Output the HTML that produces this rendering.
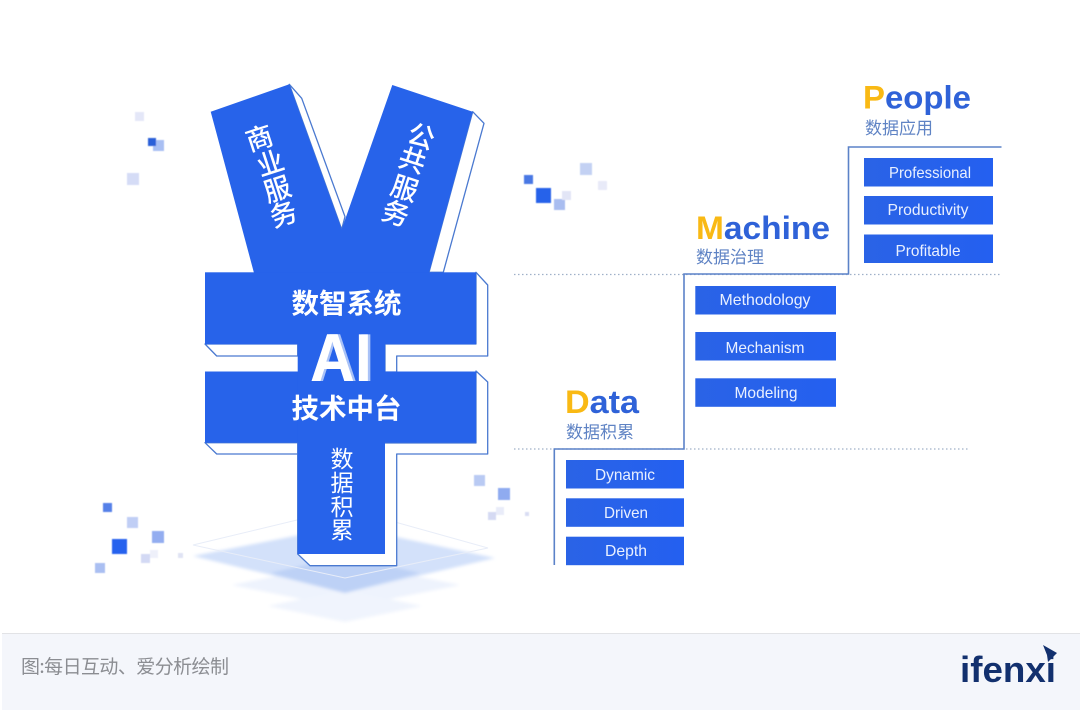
<!DOCTYPE html>
<html>
<head>
<meta charset="utf-8">
<style>
html,body{margin:0;padding:0;background:#fff;width:1080px;height:710px;overflow:hidden}
svg{display:block}
text{font-family:"Liberation Sans","Noto Sans CJK SC",sans-serif}
.w{fill:#fff;text-anchor:middle;font-weight:500}
.b{fill:#e9f0ff;font-size:16px;text-anchor:middle}
.t{font-weight:700;font-size:32px;fill:#2f62d8}
.y{fill:#f9b914}
.s{fill:#5f83c4;font-size:17px}
</style>
</head>
<body>
<svg width="1080" height="710" viewBox="0 0 1080 710" xmlns="http://www.w3.org/2000/svg">
<defs>
<linearGradient id="g" x1="0" x2="1" y1="0" y2="0"><stop offset="0" stop-color="#2a63e6"/><stop offset="1" stop-color="#2460f0"/></linearGradient>
<filter id="soft" x="-10%" y="-10%" width="120%" height="120%"><feGaussianBlur stdDeviation="0.6"/></filter>
<filter id="soft2" x="-10%" y="-10%" width="120%" height="120%"><feGaussianBlur stdDeviation="1.5"/></filter>
</defs>
<rect width="1080" height="710" fill="#fff"/>

<!-- platform -->
<g filter="url(#soft2)">
<polygon points="232,585 345,562 460,585 345,608" fill="#eef3fd"/>
<polygon points="268,606 345,590 422,606 345,622" fill="#f0f4fd"/>
<polygon points="193,556 345,526 495,558 345,593" fill="#d3e1fa"/>
<polygon points="270,573 345,556 420,573 345,593" fill="#bdd1f6"/>
</g>
<polygon points="193,545 297,520 395,522 488,548 345,578" fill="none" stroke="#e8edf8" stroke-width="1"/>

<!-- floating squares -->
<g filter="url(#soft)">
<rect x="135" y="112" width="9" height="9" fill="#e4e7f8"/>
<rect x="153" y="140" width="11" height="11" fill="#a9bff3"/>
<rect x="148" y="138" width="8" height="8" fill="#2b5fd8"/>
<rect x="127" y="173" width="12" height="12" fill="#d5dcf6"/>
<rect x="524" y="175" width="9" height="9" fill="#4a78e4"/>
<rect x="536" y="188" width="15" height="15" fill="#2762ea"/>
<rect x="554" y="199" width="11" height="11" fill="#a9bdf0"/>
<rect x="562" y="191" width="9" height="9" fill="#e2e5f6"/>
<rect x="580" y="163" width="12" height="12" fill="#c3d1f3"/>
<rect x="598" y="181" width="9" height="9" fill="#e8eaf8"/>
<rect x="103" y="503" width="9" height="9" fill="#5480e8"/>
<rect x="127" y="517" width="11" height="11" fill="#c0cef5"/>
<rect x="152" y="531" width="12" height="12" fill="#93adf0"/>
<rect x="112" y="539" width="15" height="15" fill="#2762ee"/>
<rect x="141" y="554" width="9" height="9" fill="#d3d9f4"/>
<rect x="150" y="550" width="8" height="8" fill="#eef0fa"/>
<rect x="95" y="563" width="10" height="10" fill="#aabff2"/>
<rect x="178" y="553" width="5" height="5" fill="#e0e3f4"/>
<rect x="474" y="475" width="11" height="11" fill="#b9caf3"/>
<rect x="498" y="488" width="12" height="12" fill="#8fabf0"/>
<rect x="488" y="512" width="8" height="8" fill="#d5daf3"/>
<rect x="496" y="507" width="8" height="8" fill="#e9ecf9"/>
<rect x="525" y="512" width="4" height="4" fill="#d9ddf3"/>
</g>

<!-- yen extrusion -->
<g fill="#fff" stroke="#4a79d0" stroke-width="1.3" stroke-linejoin="round">
<polygon points="289.3,84.3 301.7,98.3 345,216.7 341.7,229.3"/>
<polygon points="472.7,111.7 484,123.3 443.3,272.3 429,272.3"/>
<polygon points="476,272.3 487.7,285 487.7,356 396.7,356 396.7,372 385,372 385,344 476,344"/>
<polygon points="205,344 216.7,356 297.7,356 297.7,344"/>
<polygon points="476,371 487.7,382 487.7,454 396.7,454 396.7,565.7 310,565.7 297.7,554 297.7,443 476,443"/>
<polygon points="205,442.7 216.7,454 297.7,454 297.7,442.7"/>
</g>

<!-- yen body -->
<g fill="#2763ea">
<polygon points="210.7,111.7 289.3,84.3 341.7,229.3 392.3,85 472.7,111.7 429,273 254,273"/>
<rect x="205" y="272.3" width="271" height="72"/>
<rect x="205" y="371.5" width="271" height="71.2"/>
<rect x="297.7" y="340" width="87.3" height="214"/>
</g>

<!-- yen text -->
<g font-size="27" style="font-family:'Noto Sans CJK SC','Liberation Sans',sans-serif">
<text class="w" style="font-family:'Noto Sans CJK SC',sans-serif" transform="translate(262.4,147.5) rotate(-18)">商</text>
<text class="w" style="font-family:'Noto Sans CJK SC',sans-serif" transform="translate(273.4,172.5) rotate(-18)">业</text>
<text class="w" style="font-family:'Noto Sans CJK SC',sans-serif" transform="translate(280.4,198.5) rotate(-18)">服</text>
<text class="w" style="font-family:'Noto Sans CJK SC',sans-serif" transform="translate(286.4,223.5) rotate(-18)">务</text>
<text class="w" style="font-family:'Noto Sans CJK SC',sans-serif" transform="translate(418.3,145.5) rotate(18)">公</text>
<text class="w" style="font-family:'Noto Sans CJK SC',sans-serif" transform="translate(409.3,169.5) rotate(18)">共</text>
<text class="w" style="font-family:'Noto Sans CJK SC',sans-serif" transform="translate(401.6,197.5) rotate(18)">服</text>
<text class="w" style="font-family:'Noto Sans CJK SC',sans-serif" transform="translate(392.6,222.5) rotate(18)">务</text>
</g>
<text x="346.5" y="313" font-size="27.5" font-weight="700" fill="#fff" text-anchor="middle" style="font-family:'Noto Sans CJK SC',sans-serif">数智系统</text>
<text x="346.5" y="418" font-size="27.5" font-weight="700" fill="#fff" text-anchor="middle" style="font-family:'Noto Sans CJK SC',sans-serif">技术中台</text>
<text x="312.5" y="381" font-size="68" font-weight="700" fill="#a9c2f7" textLength="62" lengthAdjust="spacingAndGlyphs">AI</text>
<text x="310" y="381" font-size="68" font-weight="700" fill="#fff" textLength="62" lengthAdjust="spacingAndGlyphs">AI</text>
<g font-size="23" fill="#fff" text-anchor="middle" style="font-family:'Noto Sans CJK SC',sans-serif">
<text x="342" y="467">数</text>
<text x="342" y="491">据</text>
<text x="342" y="515">积</text>
<text x="342" y="538">累</text>
</g>

<!-- stairs -->
<line x1="514" y1="274.5" x2="1002" y2="274.5" stroke="#9fb0c8" stroke-width="1.2" stroke-dasharray="1.5 2.5"/>
<line x1="514" y1="449" x2="970" y2="449" stroke="#9fb0c8" stroke-width="1.2" stroke-dasharray="1.5 2.5"/>
<polyline points="554.3,565 554.3,449 684,449 684,274 848.5,274 848.5,147 1001.5,147" fill="none" stroke="#5b82c8" stroke-width="1.6"/>

<!-- boxes -->
<g fill="url(#g)">
<rect x="864" y="158" width="129" height="28.5"/>
<rect x="864" y="196" width="129" height="28.5"/>
<rect x="864" y="234.5" width="129" height="28.5"/>
<rect x="695.3" y="286" width="140.7" height="28.5"/>
<rect x="695.3" y="332" width="140.7" height="28.5"/>
<rect x="695.3" y="378.3" width="140.7" height="28.5"/>
<rect x="566" y="460" width="118" height="28.5"/>
<rect x="566" y="498.3" width="118" height="28.5"/>
<rect x="566" y="536.7" width="118" height="28.5"/>
</g>
<g>
<text class="b" x="930" y="178" textLength="82" lengthAdjust="spacingAndGlyphs">Professional</text>
<text class="b" x="928" y="215" textLength="81" lengthAdjust="spacingAndGlyphs">Productivity</text>
<text class="b" x="928" y="256" textLength="65" lengthAdjust="spacingAndGlyphs">Profitable</text>
<text class="b" x="765" y="305" textLength="91" lengthAdjust="spacingAndGlyphs">Methodology</text>
<text class="b" x="765" y="353" textLength="79" lengthAdjust="spacingAndGlyphs">Mechanism</text>
<text class="b" x="766" y="398" textLength="63" lengthAdjust="spacingAndGlyphs">Modeling</text>
<text class="b" x="625" y="480" textLength="60" lengthAdjust="spacingAndGlyphs">Dynamic</text>
<text class="b" x="626" y="518" textLength="44" lengthAdjust="spacingAndGlyphs">Driven</text>
<text class="b" x="626" y="556" textLength="42" lengthAdjust="spacingAndGlyphs">Depth</text>
</g>

<!-- titles -->
<text class="t" x="863" y="108.5" textLength="108" lengthAdjust="spacingAndGlyphs"><tspan class="y">P</tspan>eople</text>
<text class="t" x="696" y="239" textLength="134" lengthAdjust="spacingAndGlyphs"><tspan class="y">M</tspan>achine</text>
<text class="t" x="565" y="413" textLength="74" lengthAdjust="spacingAndGlyphs"><tspan class="y">D</tspan>ata</text>
<text class="s" x="865" y="134" style="font-family:'Noto Sans CJK SC',sans-serif">数据应用</text>
<text class="s" x="696" y="263" style="font-family:'Noto Sans CJK SC',sans-serif">数据治理</text>
<text class="s" x="566" y="438" style="font-family:'Noto Sans CJK SC',sans-serif">数据积累</text>

<!-- footer -->
<rect x="2" y="633" width="1078" height="77" fill="#f4f6fb"/>
<line x1="2" y1="633.5" x2="1080" y2="633.5" stroke="#e2e3e6" stroke-width="1"/>
<text x="21" y="673" font-size="19" fill="#8b8d92" textLength="208" style="font-family:'Noto Sans CJK SC',sans-serif">图:每日互动、爱分析绘制</text>
<text x="960" y="682" font-size="36" font-weight="700" fill="#12306e" textLength="96" lengthAdjust="spacingAndGlyphs">ifenxi</text>
<polygon points="1043,645 1057,653 1048,662 1047,655" fill="#12306e"/>
</svg>
</body>
</html>
